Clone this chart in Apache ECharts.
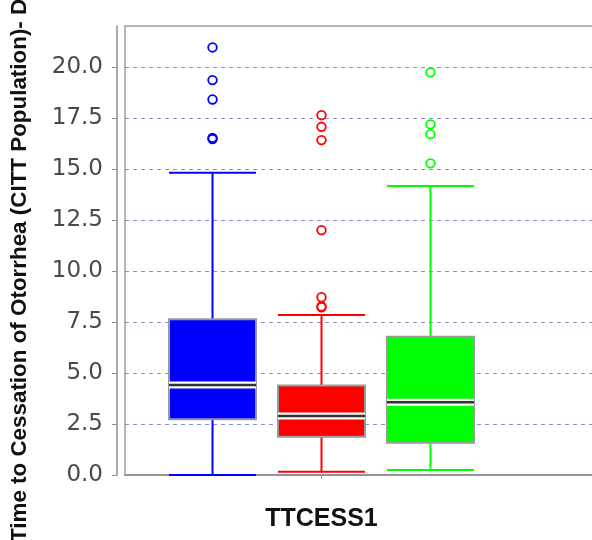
<!DOCTYPE html>
<html>
<head>
<meta charset="utf-8">
<script src="https://cdn.jsdelivr.net/npm/echarts@6/dist/echarts.min.js"></script>
<style>
html,body{margin:0;padding:0;background:#fff;}
#chart{width:592px;height:540px;}
</style>
</head>
<body>
<div id="chart"></div>
<script>
// ---- data ----
const categories = ['TTCESS1'];
const groupNames = ['Group 1', 'Group 2', 'Group 3'];
const groupColors = ['#0000ff', '#ff0000', '#00ff00'];
const lowWhisker = [0.0, 0.16, 0.25];
const q1Values = [2.73, 1.88, 1.58];
const medianValues = [4.41, 2.89, 3.56];
const q3Values = [7.63, 4.39, 6.77];
const highWhisker = [14.81, 7.84, 14.16];
const outliersGroup1 = [20.95, 19.35, 18.40, 16.52, 16.46];
const outliersGroup2 = [17.63, 17.06, 16.41, 12.0, 8.71, 8.26, 8.22];
const outliersGroup3 = [19.73, 17.18, 16.70, 15.27];
const yTickValues = [0, 2.5, 5, 7.5, 10, 12.5, 15, 17.5, 20];
const yAxisTitle = 'Time to Cessation of Otorrhea (CITT Population)- Days';
const yMin = 0, yMax = 22, yInterval = 2.5;

const outliers = [outliersGroup1, outliersGroup2, outliersGroup3];

// ---- layout constants ----
const OFFSET_FRAC = 0.2773;  // group spacing as fraction of category band
const BOX_FRAC = 0.2214;     // box width as fraction of category band

function groupCenter(api, xVal, i) {
  const c = api.coord([xVal, 0])[0];
  const band = api.size([1, 0])[0];
  return { cx: c + (i - 1) * OFFSET_FRAC * band, w: BOX_FRAC * band };
}

const series = [];
groupNames.forEach(function (name, i) {
  const color = groupColors[i];
  series.push({
    name: name,
    type: 'custom',
    xAxisIndex: 1,
    yAxisIndex: 1,
    clip: false,
    data: [[categories[0], lowWhisker[i], q1Values[i], medianValues[i], q3Values[i], highWhisker[i]]],
    encode: { x: 0, y: [1, 2, 3, 4, 5] },
    renderItem: function (params, api) {
      const g = groupCenter(api, api.value(0), i);
      const yLow = api.coord([api.value(0), api.value(1)])[1];
      const yQ1 = api.coord([api.value(0), api.value(2)])[1];
      const yMed = api.coord([api.value(0), api.value(3)])[1];
      const yQ3 = api.coord([api.value(0), api.value(4)])[1];
      const yHigh = api.coord([api.value(0), api.value(5)])[1];
      const x0 = g.cx - g.w / 2, x1 = g.cx + g.w / 2;
      const lineStyle = { stroke: color, lineWidth: 2 };
      return {
        type: 'group',
        children: [
          { type: 'line', shape: { x1: g.cx, y1: yQ3, x2: g.cx, y2: yHigh }, style: lineStyle },
          { type: 'line', shape: { x1: g.cx, y1: yQ1, x2: g.cx, y2: yLow }, style: lineStyle },
          { type: 'line', shape: { x1: x0, y1: yHigh, x2: x1, y2: yHigh }, style: lineStyle },
          { type: 'line', shape: { x1: x0, y1: yLow, x2: x1, y2: yLow }, style: lineStyle },
          { type: 'rect', shape: { x: x0, y: yQ3, width: g.w, height: yQ1 - yQ3 },
            style: { fill: color, stroke: '#9a9a9a', lineWidth: 2 } },
          { type: 'rect', shape: { x: x0, y: yMed - 3.5, width: g.w, height: 7 },
            style: { fill: '#ffffff', stroke: null } },
          { type: 'line', shape: { x1: x0, y1: yMed, x2: x1, y2: yMed },
            style: { stroke: '#333333', lineWidth: 2.5 } }
        ]
      };
    }
  });
  series.push({
    name: name + ' outliers',
    type: 'custom',
    xAxisIndex: 1,
    yAxisIndex: 1,
    clip: false,
    data: outliers[i].map(function (v) { return [categories[0], v]; }),
    encode: { x: 0, y: 1 },
    renderItem: function (params, api) {
      const g = groupCenter(api, api.value(0), i);
      const y = api.coord([api.value(0), api.value(1)])[1];
      return {
        type: 'circle',
        shape: { cx: g.cx, cy: y, r: 4.3 },
        style: { fill: 'none', stroke: color, lineWidth: 1.8 }
      };
    }
  });
});

const chart = echarts.init(document.getElementById('chart'), null, { renderer: 'canvas' });
chart.setOption({
  backgroundColor: '#ffffff',
  animation: false,
  graphic: [{
    type: 'text',
    x: 20, y: 542,
    rotation: Math.PI / 2,
    style: {
      text: yAxisTitle,
      fontFamily: 'Liberation Sans', fontWeight: 'bold', fontSize: 22.4,
      fill: '#111111', textAlign: 'left', textVerticalAlign: 'middle'
    }
  }],
  grid: [
    { left: 125, top: 26, right: -10, bottom: 65, show: true, backgroundColor: '#ffffff',
      borderColor: '#a0a0a0', borderWidth: 1.5, containLabel: false, outerBoundsMode: 'none' },
    { left: 125, top: 26, width: 393, bottom: 65, containLabel: false, outerBoundsMode: 'none' }
  ],
  xAxis: [
    { gridIndex: 0, type: 'category', data: categories, offset: 8,
      axisLine: { show: true, lineStyle: { color: '#8c8c8c', width: 1.5 } },
      axisTick: { show: false }, axisLabel: { show: false }, splitLine: { show: false } },
    { gridIndex: 1, type: 'category', data: categories, offset: 8,
      axisLine: { show: false },
      axisTick: { show: true, alignWithLabel: true, length: 4, lineStyle: { color: '#8c8c8c' } },
      axisLabel: { show: true, margin: 24, fontFamily: 'Liberation Sans', fontWeight: 'bold',
        fontSize: 25, color: '#111111' },
      splitLine: { show: false } }
  ],
  yAxis: [
    { gridIndex: 0, type: 'value', min: yMin, max: yMax, interval: yInterval, offset: 8,
      axisLine: { show: true, lineStyle: { color: '#8c8c8c', width: 1.5 } },
      axisTick: { show: true, length: 5, customValues: yTickValues, lineStyle: { color: '#8c8c8c' } },
      axisLabel: { show: true, margin: 14, customValues: yTickValues,
        fontFamily: 'DejaVu Sans', fontSize: 23, color: '#4a4a4a',
        formatter: function (v) { return v.toFixed(1); } },
      splitLine: { show: true, lineStyle: { color: '#8c8cc8', type: [4, 4], width: 1 } } },
    { gridIndex: 1, type: 'value', min: yMin, max: yMax, interval: yInterval, show: false,
      splitLine: { show: false } }
  ],
  series: series
});
</script>
</body>
</html>
